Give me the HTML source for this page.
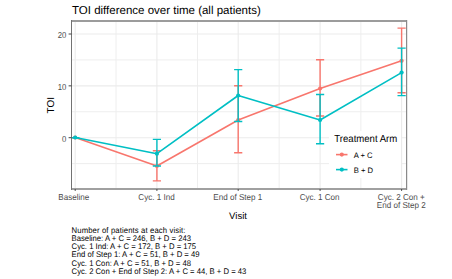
<!DOCTYPE html>
<html><head><meta charset="utf-8"><style>
html,body{margin:0;padding:0;background:#fff;width:452px;height:279px;overflow:hidden}
svg{display:block}
text{font-family:"Liberation Sans",sans-serif;text-rendering:geometricPrecision}
</style></head><body>
<svg width="452" height="279" viewBox="0 0 452 279">
<rect x="0" y="0" width="452" height="279" fill="#fff"/>
<text transform="translate(72,13.8) scale(1.0,1)" font-size="11.5" fill="#000" text-anchor="start">TOI difference over time (all patients)</text>
<path d="M71.5 59.92H406.5M71.5 111.77H406.5M71.5 163.62H406.5M116.05 21.0V189.0M197.55 21.0V189.0M279.15 21.0V189.0M360.85 21.0V189.0" stroke="#EEEEEE" stroke-width="1" fill="none"/>
<path d="M71.5 34.00H406.5M71.5 85.85H406.5M71.5 137.70H406.5M75.20 21.0V189.0M156.90 21.0V189.0M238.20 21.0V189.0M320.10 21.0V189.0M401.60 21.0V189.0" stroke="#EBEBEB" stroke-width="1.1" fill="none"/>
<path d="M71.1 137.7H79.3M156.9 150.8V180.9M152.8 150.8H161.0M152.8 180.9H161.0M238.2 85.8V152.7M234.1 85.8H242.3M234.1 152.7H242.3M320.1 59.7V116M316.0 59.7H324.2M316.0 116H324.2M401.6 28.1V92.7M397.5 28.1H405.7M397.5 92.7H405.7" stroke="#F8766D" stroke-width="1.4" fill="none"/>
<polyline points="75.2,137.5 156.9,166 238.2,120 320.1,88.5 401.6,60.8" stroke="#F8766D" stroke-width="1.6" fill="none" stroke-linejoin="round"/><g fill="#F8766D"><circle cx="75.2" cy="137.5" r="2.1"/><circle cx="156.9" cy="166" r="2.1"/><circle cx="238.2" cy="120" r="2.1"/><circle cx="320.1" cy="88.5" r="2.1"/><circle cx="401.6" cy="60.8" r="2.1"/></g>
<path d="M71.1 137.7H79.3M156.9 139.4V166M152.8 139.4H161.0M152.8 166H161.0M238.2 69.6V121.5M234.1 69.6H242.3M234.1 121.5H242.3M320.1 94.5V143.8M316.0 94.5H324.2M316.0 143.8H324.2M401.6 48.1V95.6M397.5 48.1H405.7M397.5 95.6H405.7" stroke="#00BFC4" stroke-width="1.4" fill="none"/>
<polyline points="75.2,137.5 156.9,153.7 238.2,95.5 320.1,120 401.6,72.6" stroke="#00BFC4" stroke-width="1.6" fill="none" stroke-linejoin="round"/><g fill="#00BFC4"><circle cx="75.2" cy="137.5" r="2.1"/><circle cx="156.9" cy="153.7" r="2.1"/><circle cx="238.2" cy="95.5" r="2.1"/><circle cx="320.1" cy="120" r="2.1"/><circle cx="401.6" cy="72.6" r="2.1"/></g>
<rect x="329" y="131" width="72" height="47" fill="#fff"/>
<text transform="translate(334.3,141.9) scale(0.94,1)" font-size="10.2" fill="#000" text-anchor="start">Treatment Arm</text>
<path d="M336 154.6H347.5" stroke="#F8766D" stroke-width="1.6"/><path d="M336 169.6H347.5" stroke="#00BFC4" stroke-width="1.6"/>
<circle cx="341.8" cy="154.6" r="2.1" fill="#F8766D"/><circle cx="341.8" cy="169.6" r="2.1" fill="#00BFC4"/>
<text transform="translate(353.7,158.1) scale(0.97,1)" font-size="7.9" fill="#000" text-anchor="start">A + C</text>
<text transform="translate(353.7,172.9) scale(0.97,1)" font-size="7.9" fill="#000" text-anchor="start">B + D</text>
<rect x="71" y="20" width="336" height="2" fill="#9C9C9C"/>
<rect x="71" y="188" width="336" height="2" fill="#A0A0A0"/>
<rect x="71" y="20" width="1" height="170" fill="#727272"/>
<rect x="406" y="20" width="1" height="170" fill="#8A8A8A"/>
<rect x="407" y="20" width="1" height="170" fill="#E6E6E6"/>
<path d="M68.6 34.00H71.5M68.6 85.85H71.5M68.6 137.70H71.5M75.20 189.0V190.9M156.90 189.0V190.9M238.20 189.0V190.9M320.10 189.0V190.9M401.60 189.0V190.9" stroke="#444" stroke-width="1"/>
<text transform="translate(66.4,38.0) scale(0.9,1)" font-size="8.6" fill="#4D4D4D" text-anchor="end">20</text>
<text transform="translate(66.4,89.85) scale(0.9,1)" font-size="8.6" fill="#4D4D4D" text-anchor="end">10</text>
<text transform="translate(66.4,141.7) scale(0.9,1)" font-size="8.6" fill="#4D4D4D" text-anchor="end">0</text>
<text transform="translate(73.8,199.6) scale(0.94,1)" font-size="8.6" fill="#4D4D4D" text-anchor="middle">Baseline</text>
<text transform="translate(156.5,199.6) scale(0.94,1)" font-size="8.6" fill="#4D4D4D" text-anchor="middle">Cyc. 1 Ind</text>
<text transform="translate(237.8,199.6) scale(0.94,1)" font-size="8.6" fill="#4D4D4D" text-anchor="middle">End of Step 1</text>
<text transform="translate(319.6,199.6) scale(0.94,1)" font-size="8.6" fill="#4D4D4D" text-anchor="middle">Cyc. 1 Con</text>
<text transform="translate(401.3,199.9) scale(0.94,1)" font-size="8.6" fill="#4D4D4D" text-anchor="middle">Cyc. 2 Con +</text>
<text transform="translate(401.3,208.3) scale(0.94,1)" font-size="8.6" fill="#4D4D4D" text-anchor="middle">End of Step 2</text>
<text transform="translate(238,219.2) scale(1.0,1)" font-size="9.5" fill="#000" text-anchor="middle">Visit</text>
<text transform="translate(53.7,105.2) rotate(-90)" font-size="10" fill="#000" text-anchor="middle">TOI</text>
<text transform="translate(71.6,232.9) scale(0.94,1)" font-size="8.2" fill="#000" text-anchor="start" letter-spacing="0.13">Number of patients at each visit:</text>
<text transform="translate(71.6,241.05) scale(0.94,1)" font-size="8.2" fill="#000" text-anchor="start">Baseline: A + C = 246, B + D = 243</text>
<text transform="translate(71.6,249.20000000000002) scale(0.94,1)" font-size="8.2" fill="#000" text-anchor="start">Cyc. 1 Ind: A + C = 172, B + D = 175</text>
<text transform="translate(71.6,257.35) scale(0.94,1)" font-size="8.2" fill="#000" text-anchor="start">End of Step 1: A + C = 51, B + D = 49</text>
<text transform="translate(71.6,265.5) scale(0.94,1)" font-size="8.2" fill="#000" text-anchor="start">Cyc. 1 Con: A + C = 51, B + D = 48</text>
<text transform="translate(71.6,273.65) scale(0.94,1)" font-size="8.2" fill="#000" text-anchor="start">Cyc. 2 Con + End of Step 2: A + C = 44, B + D = 43</text>
</svg>
</body></html>
